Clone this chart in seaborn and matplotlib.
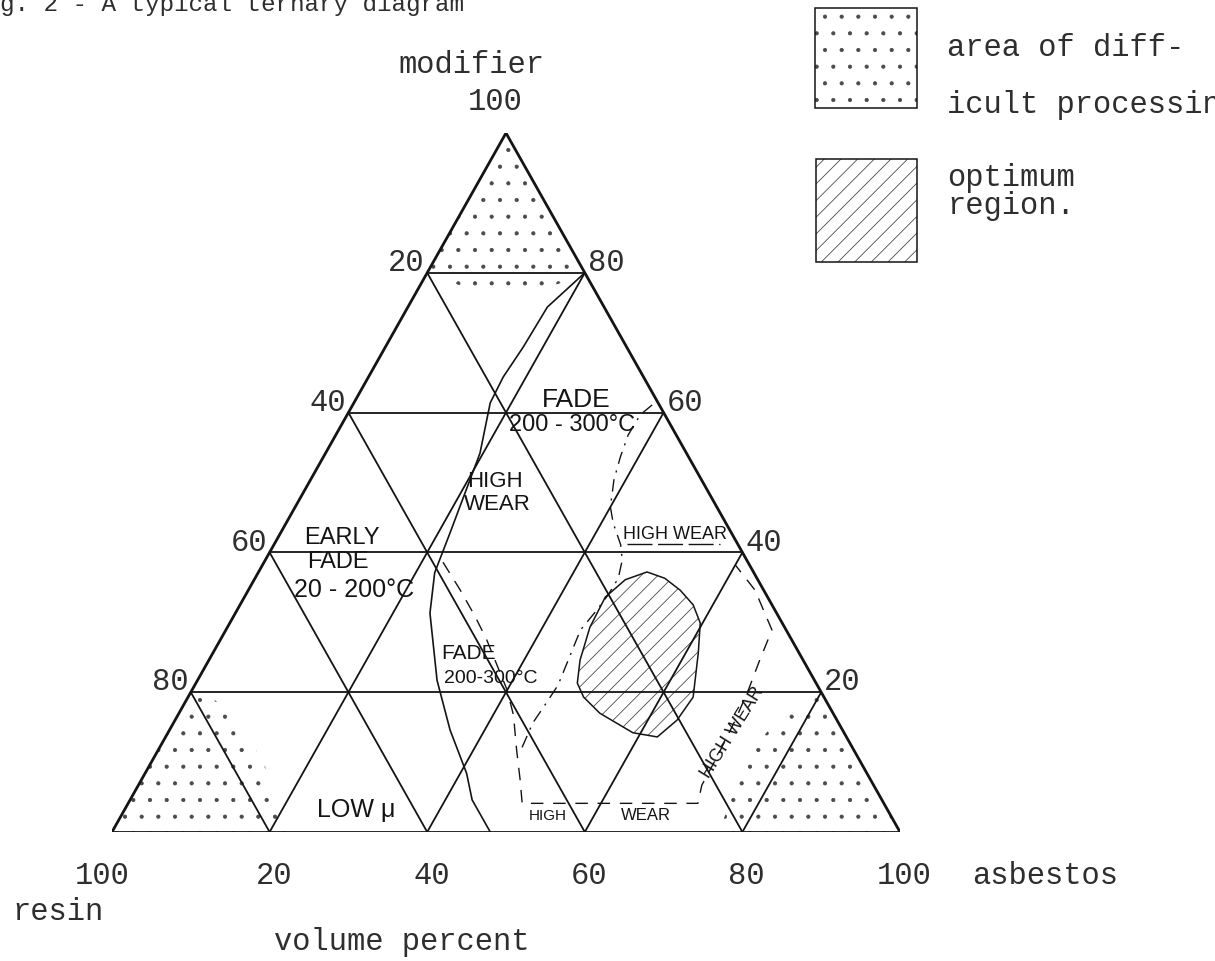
import matplotlib
matplotlib.use("Agg")
import matplotlib.pyplot as plt
import seaborn as sns
import pandas as pd
from matplotlib.patches import Polygon, Rectangle

W, H, DPI = 1215, 961, 100

# ---------------------------------------------------------------------------
# Composition data, volume percent: asbestos (a), modifier (m); resin = 100-a-m
# ---------------------------------------------------------------------------
grid_levels = [20, 40, 60, 80]
left_labels = ["80", "60", "40", "20"]      # left edge, at m = 20, 40, 60, 80
right_labels = ["20", "40", "60", "80"]     # right edge, at m = 20, 40, 60, 80
base_values = [0, 20, 40, 60, 80, 100]
base_labels = ["100", "20", "40", "60", "80", "100"]

# solid boundary between the fade zones and the low-friction zone
solid_a = [20, 17.7, 17.5, 17.1, 17.3, 19.6, 21.5, 22.4, 24.7, 30.4, 35.6, 40.8, 43.4, 48.0]
solid_m = [80, 75.1, 69.4, 65.1, 61.4, 54.2, 42.8, 37.1, 31.3, 21.7, 14.6, 8.4, 4.6, 0]

# dash-dot boundary of the 200-300 C fade zone
fade_a = [38.0, 37.2, 37.1, 37.7, 38.5, 40.0, 41.5, 44.0, 45.3, 46.1, 46.0, 45.6,
          45.0, 45.6, 46.1, 45.9, 45.6, 46.0]
fade_m = [61.1, 59.7, 56.8, 53.6, 50.4, 46.5, 44.2, 41.1, 38.9, 36.3, 33.9, 31.5,
          28.9, 24.6, 21.0, 18.6, 15.6, 12.0]

# dashed boundary of the high-wear zone
wear_a = [22.7, 26.9, 30.7, 33.8, 36.9, 40.0, 42.6, 45.5, 48.1, 50.0, 72.3, 71.5,
          71.4, 71.1, 70.6, 69.9, 69.3, 64.3, 60.0]
wear_m = [38.6, 34.6, 30.8, 27.5, 23.9, 20.3, 16.7, 11.7, 7.4, 4.1, 4.1, 6.7,
          11.0, 16.0, 20.3, 24.6, 28.9, 34.6, 38.2]

# optimum region
opt_a = [49.3, 52.0, 54.8, 57.5, 59.7, 61.6, 64.1, 63.7, 62.4, 59.0, 53.4, 50.2,
         48.4, 47.1, 46.0, 45.8, 47.1]
opt_m = [37.2, 36.3, 34.6, 32.5, 29.9, 25.6, 19.3, 16.0, 13.6, 14.2, 17.0, 19.3,
         21.3, 24.6, 29.3, 33.6, 36.1]

# areas of difficult processing
top_a = [0, 0, 2.8, 8.1, 12.2, 15.6, 18.6, 20]
top_m = [100, 80, 79.0, 77.1, 76.7, 77.5, 79.0, 80]
resin_a = [0, 0, 3.6, 8.6, 13.9, 19.0, 22.6]
resin_m = [0, 20, 18.9, 15.3, 10.3, 4.6, 0]
asb_a = [100, 80, 76.5, 75.5, 76.0, 77.0]
asb_m = [0, 20, 17.0, 12.0, 6.0, 0]

# hand-lettered zone labels: text, asbestos, modifier, size, rotation
zone_labels = [
    ("FADE", 28.0, 61.8, 19, 0),
    ("200 - 300°C", 29.3, 58.2, 17, 0),
    ("HIGH", 23.5, 50.1, 16, 0),
    ("WEAR", 25.5, 46.8, 16, 0),
    ("EARLY", 8.1, 42.1, 17, 0),
    ("FADE", 9.4, 38.6, 17, 0),
    ("20 - 200°C", 13.4, 34.6, 18, 0),
    ("FADE", 32.4, 25.6, 15, 0),
    ("200-300°C", 37.1, 22.0, 14, 0),
    ("HIGH WEAR", 50.2, 42.5, 13, 0),
    ("HIGH WEAR", 71.7, 14.2, 13, 58),
    ("HIGH", 54.2, 2.3, 11, 0),
    ("WEAR", 66.6, 2.4, 12, 0),
    ("LOW μ", 29.4, 3.1, 18, 0),
]


def tern(a, m):
    """Composition -> cartesian position on the triangle."""
    a = pd.Series(a, dtype=float)
    m = pd.Series(m, dtype=float)
    return a + m / 2.0, m


def px(x, y):
    """Pixel position -> figure fraction (for the key and page text)."""
    return x / W, 1 - y / H


sns.set_theme(style="white")
plt.rcParams["font.family"] = ["Liberation Mono", "DejaVu Sans Mono"]
plt.rcParams["hatch.linewidth"] = 0.55

MONO = ["Liberation Mono", "DejaVu Sans Mono"]
TYPE = dict(family=MONO, size=22, color="#2e2e2e")
HAND = ["Liberation Sans Narrow", "Liberation Sans", "DejaVu Sans"]
INK = "#141414"
DOTS = "#4a4a4a"

fig = plt.figure(figsize=(W / DPI, H / DPI), dpi=DPI, facecolor="white")
ax = fig.add_axes([112 / W, 1 - 832 / H, 788 / W, 699 / H])
ax.set_xlim(0, 100)
ax.set_ylim(0, 100)
ax.axis("off")

# ---- triangular grid -------------------------------------------------------
rows = []
for k in grid_levels:
    segs = {
        f"m{k}": ([0, 100 - k], [k, k]),
        f"a{k}": ([k, k], [0, 100 - k]),
        f"r{k}": ([100 - k, 0], [0, 100 - k]),
    }
    for name, (aa, mm) in segs.items():
        X, Y = tern(aa, mm)
        for x, y in zip(X, Y):
            rows.append({"seg": name, "X": x, "Y": y})
grid = pd.DataFrame(rows)
sns.lineplot(data=grid, x="X", y="Y", units="seg", estimator=None, sort=False,
             color=INK, lw=1.3, ax=ax, legend=False)

edge_rows = []
for name, (aa, mm) in {"base": ([0, 100], [0, 0]), "left": ([0, 0], [0, 100]),
                       "right": ([100, 0], [0, 100])}.items():
    X, Y = tern(aa, mm)
    for x, y in zip(X, Y):
        edge_rows.append({"seg": name, "X": x, "Y": y})
sns.lineplot(data=pd.DataFrame(edge_rows), x="X", y="Y", units="seg", estimator=None,
             sort=False, color=INK, lw=2.0, ax=ax, legend=False)

# ---- stippled areas of difficult processing --------------------------------
for aa, mm in [(top_a, top_m), (resin_a, resin_m), (asb_a, asb_m)]:
    X, Y = tern(aa, mm)
    ax.add_patch(Polygon(list(zip(X, Y)), closed=True, facecolor="none",
                         edgecolor=DOTS, lw=0, hatch="."))

# ---- optimum region --------------------------------------------------------
X, Y = tern(opt_a, opt_m)
ax.add_patch(Polygon(list(zip(X, Y)), closed=True, facecolor="none",
                     edgecolor="#3c3c3c", lw=0, hatch="//"))
ax.add_patch(Polygon(list(zip(X, Y)), closed=True, facecolor="none",
                     edgecolor=INK, lw=1.1))

# ---- zone boundaries -------------------------------------------------------
X, Y = tern(solid_a, solid_m)
sns.lineplot(x=X, y=Y, sort=False, estimator=None, color=INK, lw=1.2, ax=ax)
X, Y = tern(fade_a, fade_m)
sns.lineplot(x=X, y=Y, sort=False, estimator=None, color=INK, lw=1.0, ax=ax)
ax.lines[-1].set_dashes([9, 5, 1.5, 5])
X, Y = tern(wear_a, wear_m)
sns.lineplot(x=X, y=Y, sort=False, estimator=None, color=INK, lw=1.0, ax=ax)
ax.lines[-1].set_dashes([9, 7])

# ---- hand-lettered zone labels --------------------------------------------
for text, a, m, size, rot in zone_labels:
    X, Y = tern([a], [m])
    ax.text(X[0], Y[0], text, family=HAND, fontsize=size, color=INK,
            ha="center", va="center", rotation=rot, rotation_mode="anchor")
# underline under the upper "HIGH WEAR"
X, Y = tern([44.8, 56.6], [41.2, 41.2])
ax.plot(X, Y, color=INK, lw=1.0, dashes=[18, 4])

# ---- scale labels ----------------------------------------------------------
for k, lab in zip(grid_levels, left_labels):
    X, Y = tern([0], [k])
    ax.annotate(lab, (X[0], Y[0]), xytext=(-2, 7), textcoords="offset points",
                ha="right", va="center", annotation_clip=False, **TYPE)
for k, lab in zip(grid_levels, right_labels):
    X, Y = tern([100 - k], [k])
    ax.annotate(lab, (X[0], Y[0]), xytext=(2, 7), textcoords="offset points",
                ha="left", va="center", annotation_clip=False, **TYPE)
for i, (v, lab) in enumerate(zip(base_values, base_labels)):
    X, Y = tern([v], [0])
    dx = -7 if i == 0 else 3
    ax.annotate(lab, (X[0], Y[0]), xytext=(dx, -32), textcoords="offset points",
                ha="center", va="center", annotation_clip=False, **TYPE)
X, Y = tern([0], [100])
ax.annotate("100", (X[0], Y[0]), xytext=(-8, 22), textcoords="offset points",
            ha="center", va="center", annotation_clip=False, **TYPE)
ax.annotate("modifier", (X[0], Y[0]), xytext=(-25, 49), textcoords="offset points",
            ha="center", va="center", annotation_clip=False, **TYPE)

fig.text(*px(972, 876), "asbestos", ha="left", va="center", **TYPE)
fig.text(*px(12, 912), "resin", ha="left", va="center", **TYPE)
fig.text(*px(274, 942), "volume percent", ha="left", va="center", **TYPE)
fig.text(*px(-29, 11), "Fig. 2 - A typical ternary diagram", ha="left",
         va="baseline", family=MONO, size=17.5, color="#2e2e2e")

# ---- key ---------------------------------------------------------------------
x0, y0 = px(815, 108)
fig.add_artist(Rectangle((x0, y0), 102 / W, 100 / H, transform=fig.transFigure,
                         facecolor="none", edgecolor=DOTS, lw=0, hatch="."))
fig.add_artist(Rectangle((x0, y0), 102 / W, 100 / H, transform=fig.transFigure,
                         facecolor="none", edgecolor=INK, lw=1.1))
x1, y1 = px(816, 262)
fig.add_artist(Rectangle((x1, y1), 101 / W, 103 / H, transform=fig.transFigure,
                         facecolor="none", edgecolor="#3c3c3c", lw=0, hatch="//"))
fig.add_artist(Rectangle((x1, y1), 101 / W, 103 / H, transform=fig.transFigure,
                         facecolor="none", edgecolor=INK, lw=1.1))
fig.text(*px(947, 48), "area of diff-", ha="left", va="center", **TYPE)
fig.text(*px(947, 105), "icult processing", ha="left", va="center", **TYPE)
fig.text(*px(947, 178), "optimum", ha="left", va="center", **TYPE)
fig.text(*px(947, 206), "region.", ha="left", va="center", **TYPE)

fig.savefig("out.png", dpi=DPI, facecolor="white")
